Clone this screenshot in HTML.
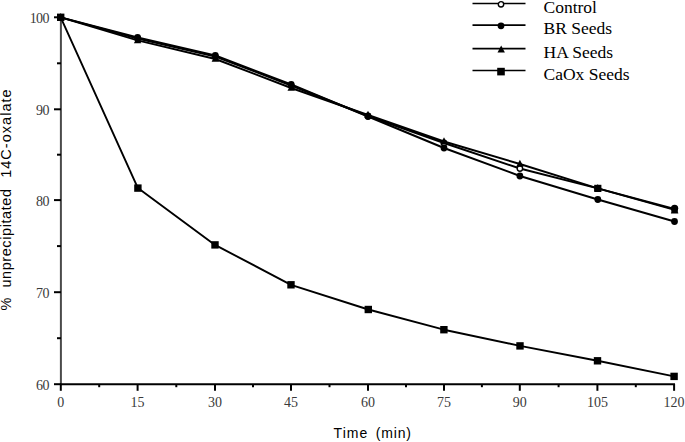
<!DOCTYPE html>
<html><head><meta charset="utf-8"><style>
html,body{margin:0;padding:0;background:#fff;}
body{width:685px;height:442px;overflow:hidden;}
svg{display:block;}
.xl{font-family:"Liberation Serif",serif;font-size:14px;fill:#3a3a3a;}
.yl{font-family:"Liberation Serif",serif;font-size:14px;fill:#3a3a3a;letter-spacing:-0.7px;}
.at{font-family:"Liberation Sans",sans-serif;font-size:14px;fill:#000;}
.at2{font-family:"Liberation Sans",sans-serif;font-size:14.5px;fill:#000;}
.lg{font-family:"Liberation Serif",serif;font-size:17.5px;fill:#000;}
</style></head><body>
<svg width="685" height="442" viewBox="0 0 685 442">
<line x1="60.9" y1="16.5" x2="60.9" y2="385.2" stroke="#4a4a4a" stroke-width="2"/>
<line x1="60" y1="384.2" x2="675" y2="384.2" stroke="#000" stroke-width="2"/>
<line x1="60.8" y1="384" x2="60.8" y2="390.8" stroke="#000" stroke-width="2"/>
<line x1="137.6" y1="384" x2="137.6" y2="390.8" stroke="#000" stroke-width="2"/>
<line x1="215.0" y1="384" x2="215.0" y2="390.8" stroke="#000" stroke-width="2"/>
<line x1="291.0" y1="384" x2="291.0" y2="390.8" stroke="#000" stroke-width="2"/>
<line x1="368.0" y1="384" x2="368.0" y2="390.8" stroke="#000" stroke-width="2"/>
<line x1="444.0" y1="384" x2="444.0" y2="390.8" stroke="#000" stroke-width="2"/>
<line x1="519.8" y1="384" x2="519.8" y2="390.8" stroke="#000" stroke-width="2"/>
<line x1="597.4" y1="384" x2="597.4" y2="390.8" stroke="#000" stroke-width="2"/>
<line x1="674.1" y1="384" x2="674.1" y2="390.8" stroke="#000" stroke-width="2"/>
<line x1="99.2" y1="384" x2="99.2" y2="387.2" stroke="#000" stroke-width="2"/>
<line x1="176.3" y1="384" x2="176.3" y2="387.2" stroke="#000" stroke-width="2"/>
<line x1="253.0" y1="384" x2="253.0" y2="387.2" stroke="#000" stroke-width="2"/>
<line x1="329.5" y1="384" x2="329.5" y2="387.2" stroke="#000" stroke-width="2"/>
<line x1="406.0" y1="384" x2="406.0" y2="387.2" stroke="#000" stroke-width="2"/>
<line x1="481.9" y1="384" x2="481.9" y2="387.2" stroke="#000" stroke-width="2"/>
<line x1="558.6" y1="384" x2="558.6" y2="387.2" stroke="#000" stroke-width="2"/>
<line x1="635.8" y1="384" x2="635.8" y2="387.2" stroke="#000" stroke-width="2"/>
<line x1="54" y1="17.3" x2="61" y2="17.3" stroke="#000" stroke-width="2"/>
<line x1="54" y1="109.3" x2="61" y2="109.3" stroke="#000" stroke-width="2"/>
<line x1="54" y1="200.1" x2="61" y2="200.1" stroke="#000" stroke-width="2"/>
<line x1="54" y1="292.2" x2="61" y2="292.2" stroke="#000" stroke-width="2"/>
<line x1="54" y1="384.2" x2="61" y2="384.2" stroke="#000" stroke-width="2"/>
<line x1="57" y1="63.3" x2="61" y2="63.3" stroke="#000" stroke-width="2"/>
<line x1="57" y1="154.7" x2="61" y2="154.7" stroke="#000" stroke-width="2"/>
<line x1="57" y1="246.1" x2="61" y2="246.1" stroke="#000" stroke-width="2"/>
<line x1="57" y1="338.2" x2="61" y2="338.2" stroke="#000" stroke-width="2"/>
<text x="48.7" y="22.7" text-anchor="end" class="yl">100</text>
<text x="48.7" y="114.7" text-anchor="end" class="yl">90</text>
<text x="48.7" y="205.5" text-anchor="end" class="yl">80</text>
<text x="48.7" y="297.6" text-anchor="end" class="yl">70</text>
<text x="48.7" y="389.6" text-anchor="end" class="yl">60</text>
<text x="60.8" y="406.5" text-anchor="middle" class="xl">0</text>
<text x="137.6" y="406.5" text-anchor="middle" class="xl">15</text>
<text x="215.0" y="406.5" text-anchor="middle" class="xl">30</text>
<text x="291.0" y="406.5" text-anchor="middle" class="xl">45</text>
<text x="368.0" y="406.5" text-anchor="middle" class="xl">60</text>
<text x="444.0" y="406.5" text-anchor="middle" class="xl">75</text>
<text x="519.8" y="406.5" text-anchor="middle" class="xl">90</text>
<text x="597.4" y="406.5" text-anchor="middle" class="xl">105</text>
<text x="674.1" y="406.5" text-anchor="middle" class="xl">120</text>
<text x="333.6" y="437.5" class="at" textLength="33.6" lengthAdjust="spacing">Time</text>
<text x="375.8" y="437.5" class="at" textLength="35.2" lengthAdjust="spacing">(min)</text>
<text transform="translate(10.6,310.6) rotate(-90)" class="at2">%</text>
<text transform="translate(10.6,287.6) rotate(-90)" class="at2" textLength="98.6" lengthAdjust="spacing">unprecipitated</text>
<text transform="translate(10.6,177.8) rotate(-90)" class="at2" textLength="88.4" lengthAdjust="spacing">14C-oxalate</text>
<polyline points="60.7,17.3 137.6,38.5 215.3,56.5 291.2,85.5 368.0,116.0 444.0,143.0 519.9,168.5 597.8,188.3 674.5,209.0" fill="none" stroke="#000" stroke-width="1.9" stroke-linejoin="round"/>
<polyline points="60.7,17.3 137.6,37.5 215.3,55.5 291.2,84.5 368.0,116.5 444.0,148.0 519.9,176.0 597.8,199.5 674.5,221.5" fill="none" stroke="#000" stroke-width="1.9" stroke-linejoin="round"/>
<polyline points="60.7,17.3 137.6,40.4 215.3,59.0 291.2,88.0 368.0,115.0 444.0,141.5 519.9,164.0 597.8,188.3 674.6,209.8" fill="none" stroke="#000" stroke-width="1.9" stroke-linejoin="round"/>
<polyline points="60.7,17.3 137.9,188.1 215.0,244.9 291.0,284.8 368.3,309.5 443.9,329.7 520.0,345.9 597.5,360.8 674.1,376.4" fill="none" stroke="#000" stroke-width="1.9" stroke-linejoin="round"/>
<circle cx="137.60" cy="38.50" r="2.70" fill="#fff" stroke="#000" stroke-width="1.4"/>
<circle cx="215.30" cy="56.50" r="2.70" fill="#fff" stroke="#000" stroke-width="1.4"/>
<circle cx="291.20" cy="85.50" r="2.70" fill="#fff" stroke="#000" stroke-width="1.4"/>
<circle cx="368.00" cy="116.00" r="2.70" fill="#fff" stroke="#000" stroke-width="1.4"/>
<circle cx="444.00" cy="143.00" r="2.70" fill="#fff" stroke="#000" stroke-width="1.4"/>
<circle cx="519.90" cy="168.50" r="2.70" fill="#fff" stroke="#000" stroke-width="1.4"/>
<circle cx="597.80" cy="188.30" r="2.70" fill="#fff" stroke="#000" stroke-width="1.4"/>
<circle cx="674.50" cy="209.00" r="2.70" fill="#fff" stroke="#000" stroke-width="1.4"/>
<circle cx="60.70" cy="17.30" r="3.40" fill="#000"/>
<circle cx="137.60" cy="37.50" r="3.40" fill="#000"/>
<circle cx="215.30" cy="55.50" r="3.40" fill="#000"/>
<circle cx="291.20" cy="84.50" r="3.40" fill="#000"/>
<circle cx="368.00" cy="116.50" r="3.40" fill="#000"/>
<circle cx="444.00" cy="148.00" r="3.40" fill="#000"/>
<circle cx="519.90" cy="176.00" r="3.40" fill="#000"/>
<circle cx="597.80" cy="199.50" r="3.40" fill="#000"/>
<circle cx="674.50" cy="221.50" r="3.40" fill="#000"/>
<path d="M60.70 13.08L64.40 20.11L57.00 20.11Z" fill="#000"/>
<path d="M137.60 36.18L141.30 43.21L133.90 43.21Z" fill="#000"/>
<path d="M215.30 54.78L219.00 61.81L211.60 61.81Z" fill="#000"/>
<path d="M291.20 83.78L294.90 90.81L287.50 90.81Z" fill="#000"/>
<path d="M368.00 110.78L371.70 117.81L364.30 117.81Z" fill="#000"/>
<path d="M444.00 137.28L447.70 144.31L440.30 144.31Z" fill="#000"/>
<path d="M519.90 159.78L523.60 166.81L516.20 166.81Z" fill="#000"/>
<path d="M597.80 184.08L601.50 191.11L594.10 191.11Z" fill="#000"/>
<path d="M674.60 205.58L678.30 212.61L670.90 212.61Z" fill="#000"/>
<rect x="57.00" y="13.60" width="7.40" height="7.40" fill="#000"/>
<rect x="134.20" y="184.40" width="7.40" height="7.40" fill="#000"/>
<rect x="211.30" y="241.20" width="7.40" height="7.40" fill="#000"/>
<rect x="287.30" y="281.10" width="7.40" height="7.40" fill="#000"/>
<rect x="364.60" y="305.80" width="7.40" height="7.40" fill="#000"/>
<rect x="440.20" y="326.00" width="7.40" height="7.40" fill="#000"/>
<rect x="516.30" y="342.20" width="7.40" height="7.40" fill="#000"/>
<rect x="593.80" y="357.10" width="7.40" height="7.40" fill="#000"/>
<rect x="670.40" y="372.70" width="7.40" height="7.40" fill="#000"/>
<rect x="594.20" y="184.80" width="7.20" height="7.20" fill="#000"/>
<circle cx="674.60" cy="208.30" r="3.60" fill="#000"/>
<path d="M674.60 206.27L678.40 213.49L670.80 213.49Z" fill="#000"/>
<line x1="472.5" y1="3.5" x2="525.5" y2="3.5" stroke="#000" stroke-width="1.7"/>
<line x1="472.5" y1="25.1" x2="525.5" y2="25.1" stroke="#000" stroke-width="1.7"/>
<line x1="472.5" y1="48.7" x2="525.5" y2="48.7" stroke="#000" stroke-width="1.7"/>
<line x1="472.5" y1="70.6" x2="525.5" y2="70.6" stroke="#000" stroke-width="1.5"/>
<circle cx="501.00" cy="4.30" r="2.70" fill="#fff" stroke="#000" stroke-width="1.4"/>
<circle cx="501.00" cy="25.80" r="3.40" fill="#000"/>
<path d="M501.20 45.58L504.90 52.61L497.50 52.61Z" fill="#000"/>
<rect x="497.20" y="67.80" width="7.60" height="7.60" fill="#000"/>
<text x="543.5" y="12.6" class="lg">Control</text>
<text x="543.5" y="34.3" class="lg">BR Seeds</text>
<text x="543.5" y="57.6" class="lg">HA Seeds</text>
<text x="543.5" y="79.5" class="lg">CaOx Seeds</text>
</svg>
</body></html>
